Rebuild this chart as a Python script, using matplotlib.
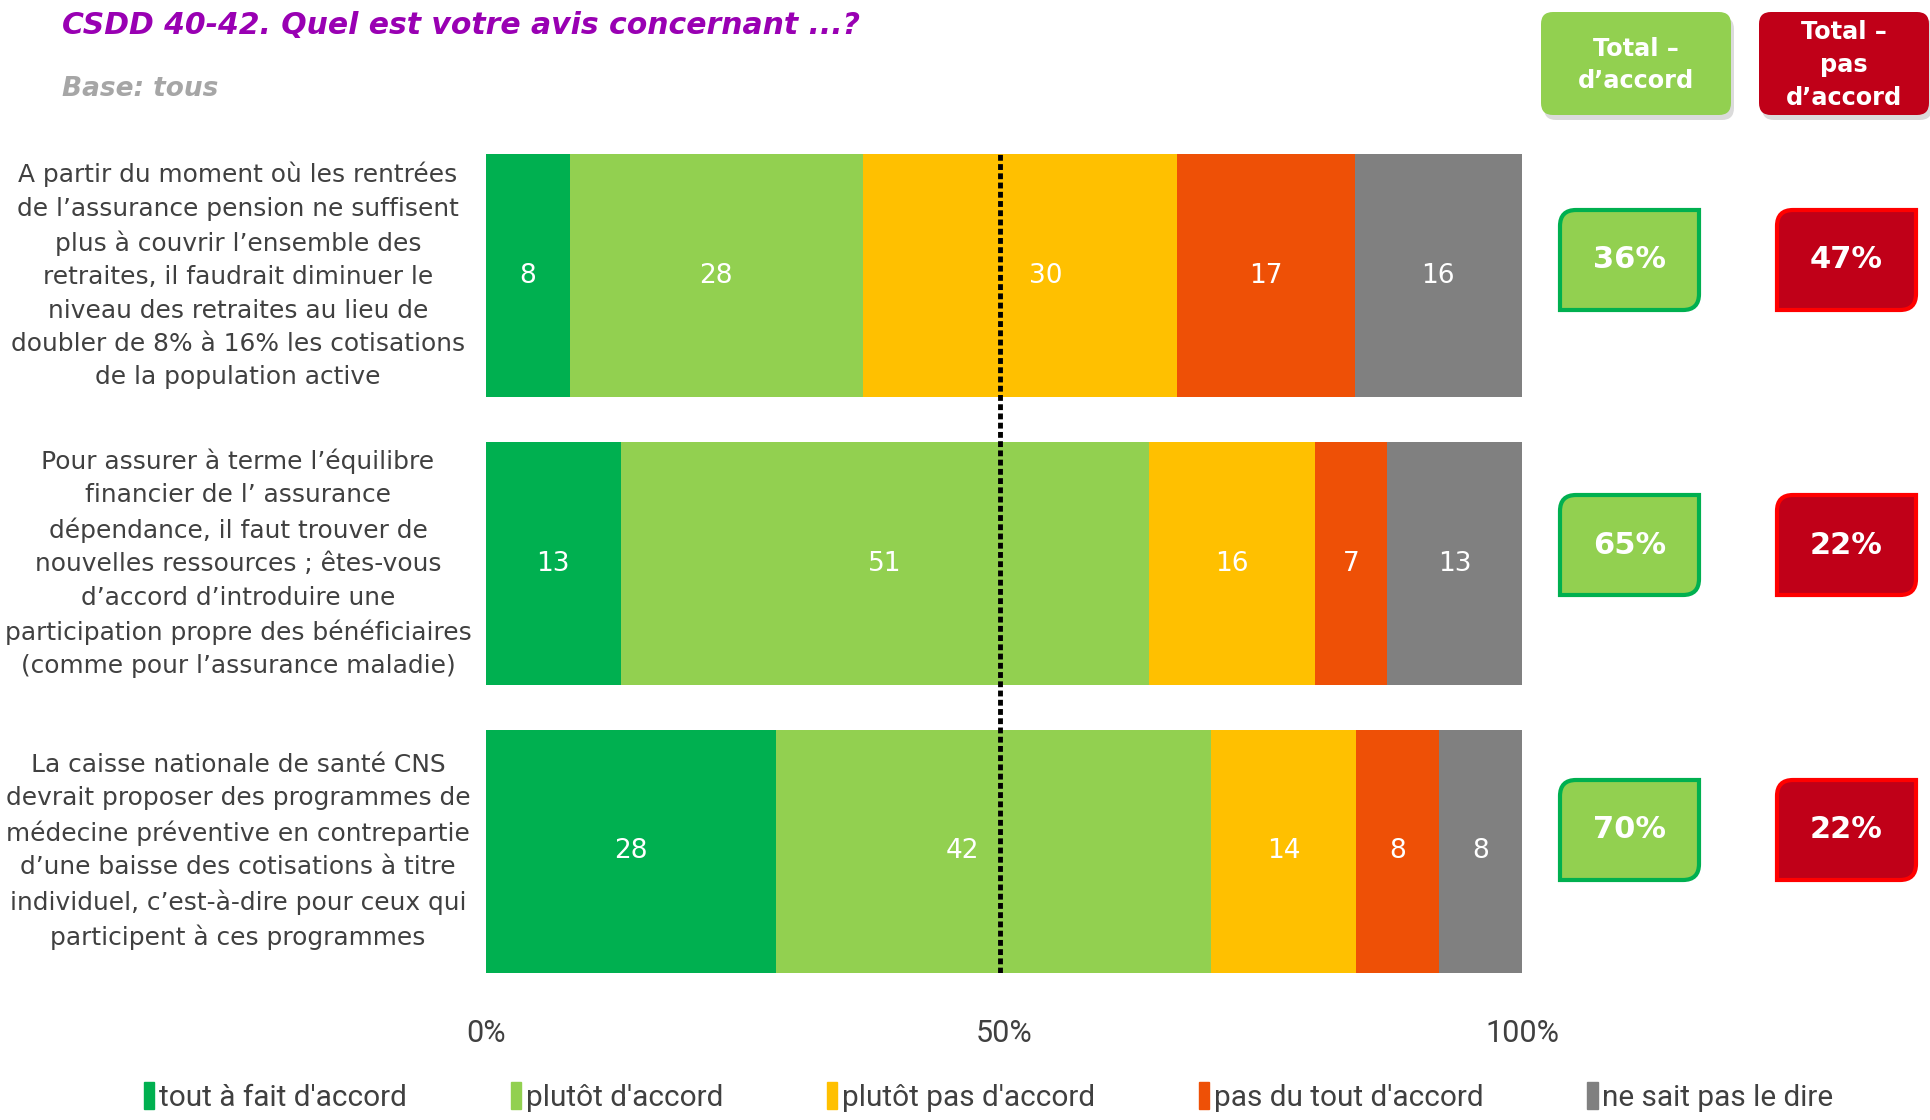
import matplotlib.pyplot as plt
import numpy as np
from matplotlib.path import Path
from matplotlib.patches import PathPatch, FancyBboxPatch, Patch

# data
questions = [
    "A partir du moment où les rentrées\nde l’assurance pension ne suffisent\nplus à couvrir l’ensemble des\n"
    "retraites, il faudrait diminuer le\nniveau des retraites au lieu de\n"
    "doubler de 8% à 16% les cotisations\nde la population active",
    "Pour assurer à terme l’équilibre\nfinancier de l’ assurance\ndépendance, il faut trouver de\n"
    "nouvelles ressources ; êtes-vous\nd’accord d’introduire une\n"
    "participation propre des bénéficiaires\n(comme pour l’assurance maladie)",
    "La caisse nationale de santé CNS\ndevrait proposer des programmes de\n"
    "médecine préventive en contrepartie\nd’une baisse des cotisations à titre\n"
    "individuel, c’est-à-dire pour ceux qui\nparticipent à ces programmes",
]
categories = ["tout à fait d'accord", "plutôt d'accord", "plutôt pas d'accord",
              "pas du tout d'accord", "ne sait pas le dire"]
tout_accord = [8, 13, 28]
plutot_accord = [28, 51, 42]
plutot_pas = [30, 16, 14]
pas_du_tout = [17, 7, 8]
ne_sait_pas = [16, 13, 8]
total_accord = [36, 65, 70]
total_pas_accord = [47, 22, 22]

colors = ['#00B050', '#92D050', '#FFC000', '#EE5006', '#808080']
narrow = 'Roboto'

W, H = 1931, 1120
fig = plt.figure(figsize=(W / 100, H / 100), dpi=100)

# overlay axes in pixel coordinates for the decorations
ov = fig.add_axes([0, 0, 1, 1])
ov.set_xlim(0, W)
ov.set_ylim(H, 0)
ov.axis('off')

ax = fig.add_axes([486 / W, 1 - 973 / H, 1036 / W, 819 / H])

series = np.array([tout_accord, plutot_accord, plutot_pas, pas_du_tout, ne_sait_pas])
shares = series / series.sum(axis=0) * 100
rows = np.arange(len(questions))
left = np.zeros(len(rows))
for k in range(len(categories)):
    ax.barh(rows, shares[k], left=left, height=0.844, color=colors[k], label=categories[k])
    for i in rows:
        c = left[i] + shares[k][i] / 2
        if abs(c - 50) < 4:  # keep label clear of the 50% line
            c = 50 + 4 * np.sign(c - 50)
        ax.text(c, i, str(series[k][i]), color='white', fontsize=19,
                ha='center', va='center')
    left += shares[k]

ax.axvline(49.6, color='black', linestyle=(0, (1.2, 0.7)), linewidth=3.5)
ax.set_xlim(0, 100)
ax.set_ylim(2.422, -0.422)
ax.set_yticks([])
ax.set_xticks([0, 50, 100])
ax.set_xticklabels(['0%', '50%', '100%'], family=narrow, fontsize=22, color='#404040')
ax.tick_params(axis='x', length=0, pad=33)
for s in ax.spines.values():
    s.set_visible(False)

for i, q in enumerate(questions):
    ax.text(-0.2394, i, q, transform=ax.get_yaxis_transform(), ha='center', va='center',
            multialignment='center', fontsize=17.9, color='#404040', linespacing=1.49)

# title
fig.text(62 / W, 1 - 25 / H, "CSDD 40-42. Quel est votre avis concernant ...?", color='#9900B3',
         fontsize=21.5, fontweight='bold', fontstyle='italic', va='center')
fig.text(62 / W, 1 - 89 / H, "Base: tous", color='#A6A6A6',
         fontsize=19, fontweight='bold', fontstyle='italic', va='center')

# header boxes
for x0, x1, col, txt in [(1541, 1731, '#92D050', 'Total –\nd’accord'),
                         (1759, 1929, '#C00018', 'Total –\npas\nd’accord')]:
    ov.add_patch(FancyBboxPatch((x0 + 3, 17), x1 - x0, 103, boxstyle='round,pad=0,rounding_size=12',
                                fc='#B8B8B8', ec='none', alpha=0.5))
    ov.add_patch(FancyBboxPatch((x0, 12), x1 - x0, 103, boxstyle='round,pad=0,rounding_size=12',
                                fc=col, ec='none'))
    ov.text((x0 + x1) / 2, 65, txt, color='white', fontsize=17.3, fontweight='bold',
            ha='center', va='center', linespacing=1.45)


def snip_box(x0, y0, x1, y1, r):
    verts = [(x0, y0 + r), (x0, y0), (x0 + r, y0), (x1, y0), (x1, y1 - r),
             (x1, y1), (x1 - r, y1), (x0, y1), (x0, y0 + r)]
    codes = [Path.MOVETO, Path.CURVE3, Path.CURVE3, Path.LINETO, Path.LINETO,
             Path.CURVE3, Path.CURVE3, Path.LINETO, Path.CLOSEPOLY]
    return Path(verts, codes)


for i in rows:
    yc = 260 + 285 * i
    for x0, fc, ec, val in [(1560, '#92D050', '#00B050', total_accord[i]),
                            (1777, '#C00018', '#FF0000', total_pas_accord[i])]:
        ov.add_patch(PathPatch(snip_box(x0, yc - 50, x0 + 139, yc + 50, 16), fc=fc, ec=ec, lw=3))
        ov.text(x0 + 69.5, yc, f'{val}%', color='white', fontsize=22, fontweight='bold',
                ha='center', va='center')

handles = [Patch(color=c) for c in colors]
fig.legend(handles, categories, loc='center', bbox_to_anchor=(0.512, 1 - 1097 / H), ncol=5,
           frameon=False, prop={'family': narrow, 'size': 21.4}, labelcolor='#404040',
           handlelength=0.35, handleheight=1.0, handletextpad=0.15, columnspacing=3.5)

fig.savefig('out.png', dpi=100)
